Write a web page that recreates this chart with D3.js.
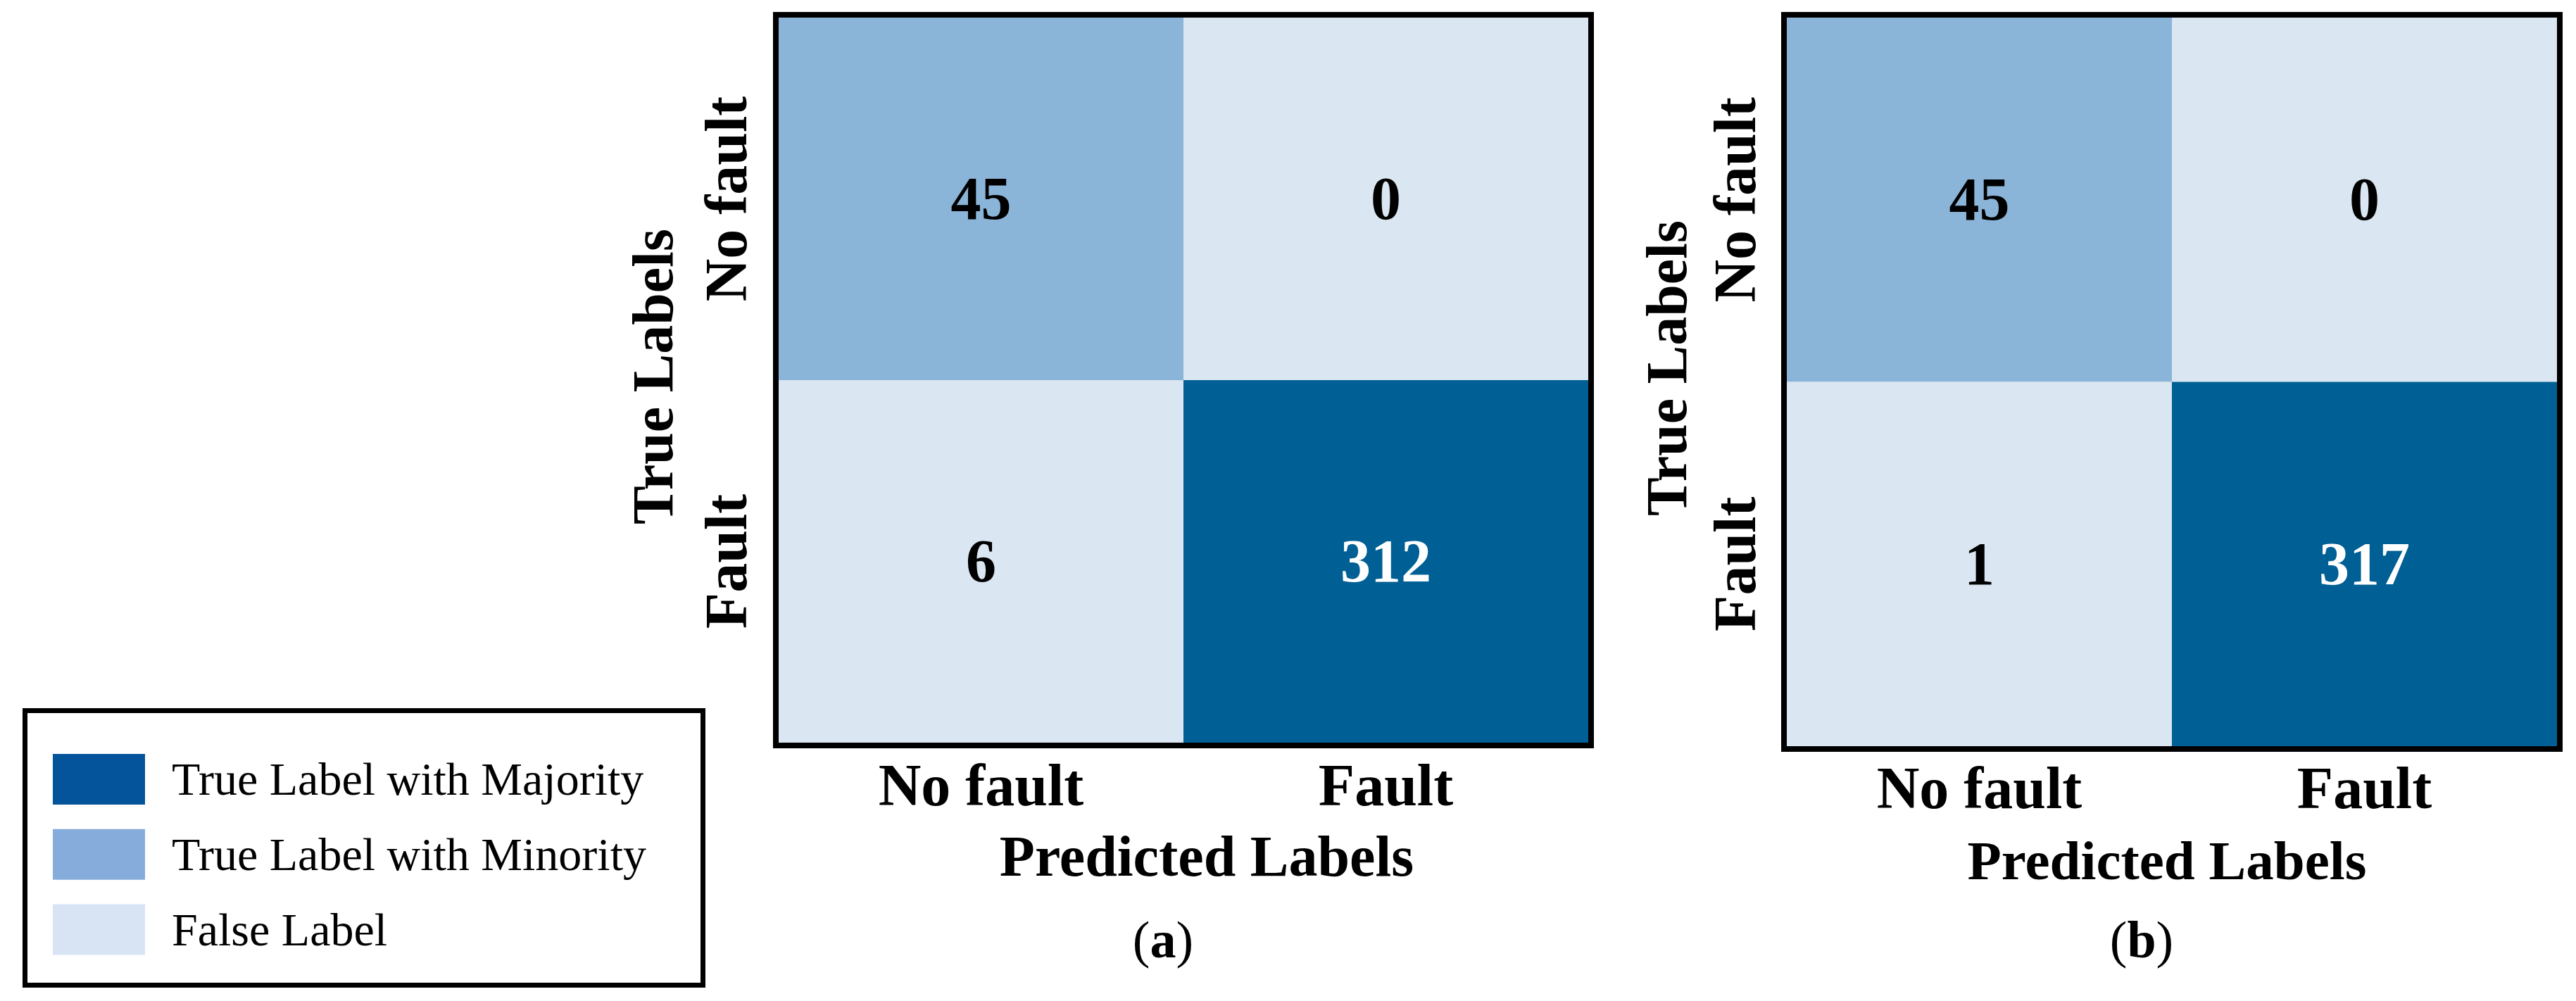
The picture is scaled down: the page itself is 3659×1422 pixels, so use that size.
<!DOCTYPE html>
<html><head><meta charset="utf-8">
<script src="https://cdn.jsdelivr.net/npm/d3@7"></script>
<style>html,body{margin:0;padding:0;background:#fff;} svg{display:block;}</style>
</head><body>
<script>
// ---- data ----
const trueLabels = ["No fault", "Fault"];
const predictedLabels = ["No fault", "Fault"];
const countsA = [[45, 0], [6, 312]];
const countsB = [[45, 0], [1, 317]];
const cellKinds = [["minority", "false"], ["false", "majority"]];
const panelCaptions = ["a", "b"];
const legendKeys = ["majority", "minority", "false"];
const legendLabels = ["True Label with Majority", "True Label with Minority", "False Label"];
const xTitle = "Predicted Labels";
const yTitle = "True Labels";

// ---- style ----
const W = 3659, H = 1422;
const SERIF = "'Liberation Serif', 'Times New Roman', serif";
const cellColor = {majority: "#005f94", minority: "#8ab4d8", false: "#dae6f1"};
const legendColor = {majority: "#03549b", minority: "#86acdc", false: "#d8e4f4"};
const numColor = {majority: "#ffffff", minority: "#000000", false: "#000000"};

const layouts = [
  {x0: 1106, x1: 2256, y0: 25, y1: 1055, tickOff: 89, titleOff: 189, ytickOff: 46, ytitleOff: 151, titleX: 1714, captionX: 1652, titleSize: 82, ytitleY: 535},
  {x0: 2538, x1: 3632, y0: 25, y1: 1060, tickOff: 88, titleOff: 189, ytickOff: 45, ytitleOff: 143, titleX: 3078, captionX: 3042, titleSize: 79, ytitleY: 523}
];
const panelData = [countsA, countsB];

const svg = d3.select("body").append("svg").attr("width", W).attr("height", H)
  .style("background", "#fff");

panelData.forEach((counts, pi) => {
  const L = layouts[pi];
  const g = svg.append("g");
  const x = d3.scaleBand().domain(predictedLabels).range([L.x0, L.x1]);
  const y = d3.scaleBand().domain(trueLabels).range([L.y0, L.y1]);

  const cells = [];
  trueLabels.forEach((t, i) => predictedLabels.forEach((p, j) => {
    cells.push({t, p, v: counts[i][j], kind: cellKinds[i][j]});
  }));

  g.selectAll("rect.cell").data(cells).join("rect")
    .attr("class", "cell")
    .attr("x", d => x(d.p)).attr("y", d => y(d.t))
    .attr("width", x.bandwidth()).attr("height", y.bandwidth())
    .attr("fill", d => cellColor[d.kind]);

  g.selectAll("text.num").data(cells).join("text")
    .attr("class", "num")
    .attr("x", d => x(d.p) + x.bandwidth() / 2)
    .attr("y", d => y(d.t) + y.bandwidth() / 2)
    .attr("dy", "0.33em")
    .attr("text-anchor", "middle")
    .attr("font-family", SERIF).attr("font-weight", "bold").attr("font-size", 86)
    .attr("fill", d => numColor[d.kind])
    .text(d => d.v);

  // frame
  g.append("rect")
    .attr("x", L.x0 - 4).attr("y", L.y0 - 4)
    .attr("width", L.x1 - L.x0 + 8).attr("height", L.y1 - L.y0 + 8)
    .attr("fill", "none").attr("stroke", "#000").attr("stroke-width", 8);

  // x tick labels
  const xAxis = d3.axisBottom(x).tickSize(0).tickPadding(0);
  const xa = g.append("g").attr("transform", `translate(0,${L.y1 + L.tickOff})`).call(xAxis);
  xa.select(".domain").remove();
  xa.selectAll("text").attr("dy", 0).attr("y", 0)
    .attr("font-family", SERIF).attr("font-weight", "bold").attr("font-size", 84).attr("fill", "#000");

  // y tick labels (rotated)
  g.selectAll("text.ytick").data(trueLabels).join("text")
    .attr("class", "ytick")
    .attr("transform", d => `translate(${L.x0 - L.ytickOff},${y(d) + y.bandwidth() / 2}) rotate(-90)`)
    .attr("text-anchor", "middle")
    .attr("font-family", SERIF).attr("font-weight", "bold").attr("font-size", 84)
    .text(d => d);

  // axis titles
  g.append("text")
    .attr("x", L.titleX).attr("y", L.y1 + L.titleOff)
    .attr("text-anchor", "middle")
    .attr("font-family", SERIF).attr("font-weight", "bold").attr("font-size", L.titleSize)
    .text(xTitle);
  g.append("text")
    .attr("transform", `translate(${L.x0 - L.ytitleOff},${L.ytitleY}) rotate(-90)`)
    .attr("text-anchor", "middle")
    .attr("font-family", SERIF).attr("font-weight", "bold").attr("font-size", 82)
    .text(yTitle);

  // caption
  const cap = g.append("text")
    .attr("x", L.captionX).attr("y", 1360)
    .attr("text-anchor", "middle")
    .attr("font-family", SERIF).attr("font-size", 74);
  cap.append("tspan").text("(");
  cap.append("tspan").attr("font-weight", "bold").text(panelCaptions[pi]);
  cap.append("tspan").text(")");
});

// ---- legend ----
const lg = svg.append("g");
lg.append("rect")
  .attr("x", 35.5).attr("y", 1009.5).attr("width", 963).attr("height", 390)
  .attr("fill", "#fff").attr("stroke", "#000").attr("stroke-width", 7);
const ly = d3.scalePoint().domain(legendKeys).range([1107, 1320.5]);
lg.selectAll("rect.sw").data(legendKeys).join("rect")
  .attr("class", "sw")
  .attr("x", 75).attr("y", d => ly(d) - 36)
  .attr("width", 131).attr("height", 72)
  .attr("fill", d => legendColor[d]);
lg.selectAll("text.lt").data(legendKeys).join("text")
  .attr("class", "lt")
  .attr("x", 244).attr("y", d => ly(d) + 22)
  .attr("font-family", SERIF).attr("font-size", 66).attr("fill", "#000")
  .text((d, i) => legendLabels[i]);
</script>
</body></html>
